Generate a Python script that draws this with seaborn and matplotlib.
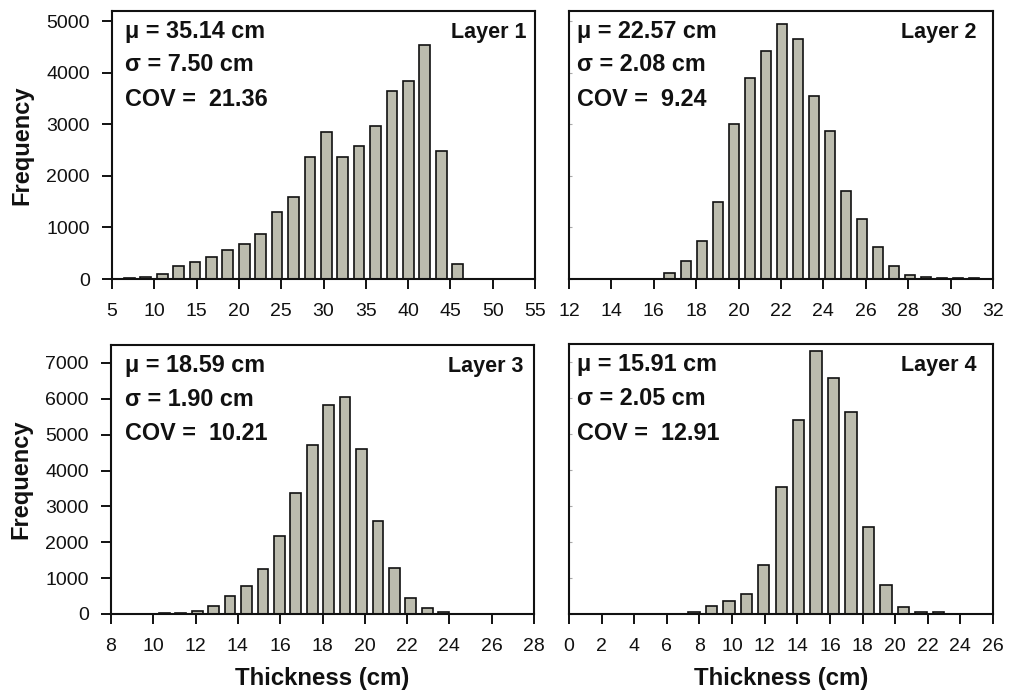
import numpy as np
import pandas as pd
import matplotlib
matplotlib.use("Agg")
import matplotlib.pyplot as plt
import seaborn as sns

sns.set_theme(style="ticks")
plt.rcParams["font.family"] = ["Liberation Sans", "DejaVu Sans"]
plt.rcParams["text.color"] = "#111111"
plt.rcParams["axes.labelcolor"] = "#111111"

# Bin centres (cm) and counts for each layer
layer1_centers = [7.05, 8.99, 10.93, 12.87, 14.81, 16.75, 18.69, 20.63, 22.57, 24.51,
                  26.45, 28.39, 30.33, 32.27, 34.21, 36.15, 38.09, 40.03, 41.97, 43.91, 45.85]
layer1_counts = [20, 40, 100, 245, 330, 420, 570, 680, 870, 1295,
                 1600, 2370, 2850, 2370, 2585, 2975, 3650, 3840, 4550, 2480, 300]

layer2_centers = [16.75, 17.51, 18.26, 19.02, 19.77, 20.53, 21.28, 22.04, 22.79, 23.55,
                  24.30, 25.06, 25.81, 26.57, 27.32, 28.08, 28.83, 29.59, 30.34, 31.10]
layer2_counts = [120, 340, 740, 1500, 3015, 3905, 4420, 4940, 4650, 3555,
                 2875, 1710, 1155, 630, 260, 80, 30, 20, 20, 15]

layer3_centers = [10.52, 11.30, 12.07, 12.85, 13.63, 14.41, 15.18, 15.96, 16.74, 17.51,
                  18.29, 19.07, 19.84, 20.62, 21.40, 22.18, 22.95, 23.73]
layer3_counts = [28, 28, 85, 215, 510, 780, 1265, 2170, 3370, 4710,
                 5820, 6050, 4590, 2600, 1295, 455, 170, 45]

layer4_centers = [7.66, 8.73, 9.80, 10.87, 11.94, 13.02, 14.09, 15.16, 16.23, 17.30,
                  18.37, 19.44, 20.51, 21.58, 22.65]
layer4_counts = [55, 215, 370, 550, 1370, 3540, 5380, 7310, 6555, 5605,
                 2420, 800, 195, 45, 45]

layer_names = ["Layer 1", "Layer 2", "Layer 3", "Layer 4"]
stat_mean = ["35.14", "22.57", "18.59", "15.91"]
stat_std = ["7.50", "2.08", "1.90", "2.05"]
stat_cov = ["21.36", "9.24", "10.21", "12.91"]

x_limits = [(5, 55), (12, 32), (8, 28), (0, 26)]
x_steps = [5, 2, 2, 2]
y_limits = [(0, 5200), (0, 5200), (0, 7500), (0, 7500)]

centers_all = [layer1_centers, layer2_centers, layer3_centers, layer4_centers]
counts_all = [layer1_counts, layer2_counts, layer3_counts, layer4_counts]

BAR_COLOR = "#bcbcae"
INK = "#111111"

fig = plt.figure(figsize=(10.10, 6.93), dpi=100)
W, H = 1010, 693
# axes boxes in pixels: left, top, right, bottom
boxes = [(112, 11, 535, 279), (569, 11, 993, 279),
         (111, 345, 534, 614), (569, 344, 993, 614)]
axes = []
for (l, t, r, b) in boxes:
    axes.append(fig.add_axes([l / W, 1 - b / H, (r - l) / W, (b - t) / H]))

text_x = [0.031, 0.019, 0.033, 0.019]
layer_x = [0.981, 0.962, 0.974, 0.962]

for i, ax in enumerate(axes):
    c = np.asarray(centers_all[i], dtype=float)
    width = (c[-1] - c[0]) / (len(c) - 1)
    df = pd.DataFrame({"thickness": c, "count": counts_all[i]})
    sns.histplot(data=df, x="thickness", weights="count", binwidth=width,
                 binrange=(c[0] - width / 2, c[-1] + width / 2), shrink=0.65,
                 color=BAR_COLOR, edgecolor=INK, linewidth=1.2, alpha=1.0, ax=ax)

    ax.set_xlim(*x_limits[i])
    ax.set_ylim(*y_limits[i])
    ax.set_xticks(np.arange(x_limits[i][0], x_limits[i][1] + 0.01, x_steps[i]))
    ax.set_yticks(np.arange(0, y_limits[i][1], 1000))
    for sp in ax.spines.values():
        sp.set_visible(True)
        sp.set_linewidth(1.5)
        sp.set_color(INK)
    ax.tick_params(axis="x", direction="out", length=7, width=1.4, pad=10,
                   labelsize=14, colors=INK)
    if i % 2 == 0:
        ax.tick_params(axis="y", direction="out", length=7, width=1.4, pad=9,
                       labelsize=14, colors=INK)
        ax.set_ylabel("Frequency", fontsize=17, fontweight="bold", labelpad=9)
    else:
        ax.tick_params(axis="y", direction="in", length=2, width=0.8,
                       labelleft=False, color="#aaaaaa")
        ax.set_ylabel("")
    if i >= 2:
        ax.set_xlabel("Thickness (cm)", fontsize=17.3, fontweight="bold", labelpad=9)
    else:
        ax.set_xlabel("")

    ax.text(text_x[i], 0.90, "\u03bc = " + stat_mean[i] + " cm", transform=ax.transAxes,
            fontsize=16.8, fontweight="bold", va="baseline", ha="left")
    ax.text(text_x[i], 0.775, "\u03c3 = " + stat_std[i] + " cm", transform=ax.transAxes,
            fontsize=16.8, fontweight="bold", va="baseline", ha="left")
    ax.text(text_x[i], 0.645, "COV =  " + stat_cov[i], transform=ax.transAxes,
            fontsize=16.8, fontweight="bold", va="baseline", ha="left")
    ax.text(layer_x[i], 0.90, layer_names[i], transform=ax.transAxes,
            fontsize=15.5, fontweight="bold", va="baseline", ha="right")

fig.savefig("out.png", dpi=100)
